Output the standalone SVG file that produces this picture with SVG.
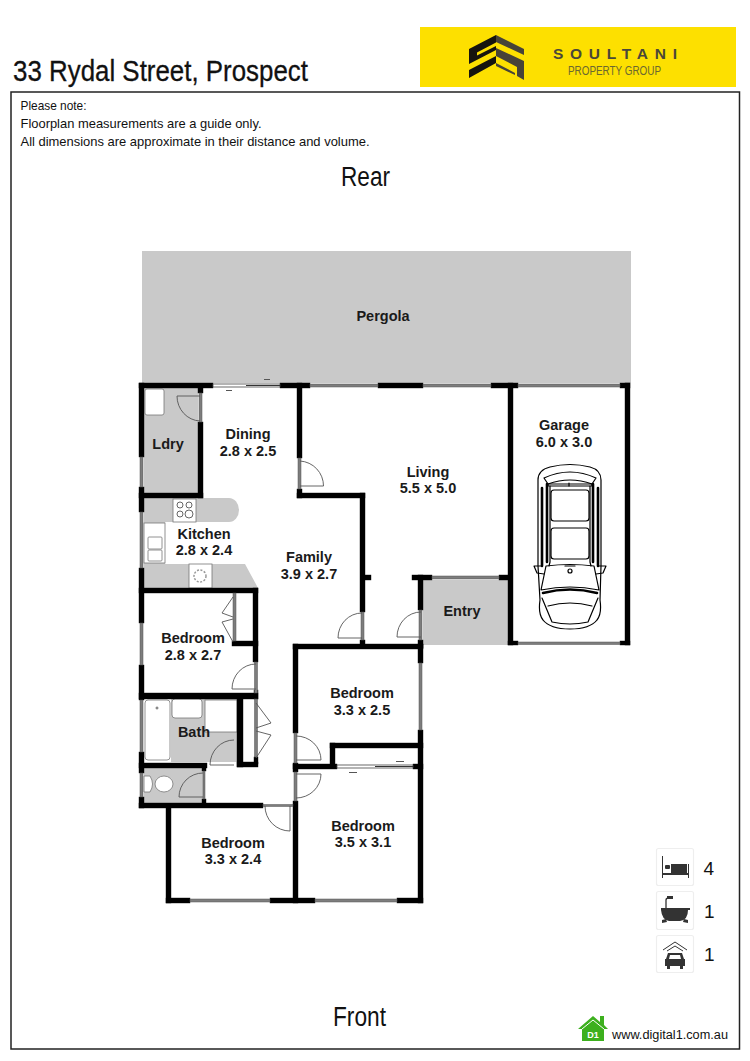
<svg xmlns="http://www.w3.org/2000/svg" width="750" height="1061" viewBox="0 0 750 1061">
<style>
text{font-family:"Liberation Sans",Arial,sans-serif;fill:#111}
.l{font-weight:700;font-size:14.5px;text-anchor:middle;fill:#1a1a1a}
.n{font-size:13px}
.w{fill:#000;stroke:#000;stroke-width:.4}
.g{fill:#c9c9c9}
.win{fill:#7d7d7d;stroke:#555;stroke-width:.5}
.sl{fill:#fff;stroke:#444;stroke-width:.8}
.d{fill:none;stroke:#555;stroke-width:.9}
.fx{fill:#fff;stroke:#777;stroke-width:.8}
.c{fill:none;stroke:#000;stroke-width:1.2;stroke-linejoin:round;stroke-linecap:round}
.cb{fill:none;stroke:#000;stroke-width:2.600;stroke-linecap:round}
.ib{fill:#fff;stroke:#eee;stroke-width:1.2}
.ic{fill:#333}
</style>
<rect width="750" height="1061" fill="#fff"/>
<g id="header">
<text x="13" y="80.500" font-size="29" textLength="295" lengthAdjust="spacingAndGlyphs" stroke="#111" stroke-width=".3">33 Rydal Street, Prospect</text>
</g>
<g id="logo">
<rect x="420" y="27" width="316" height="60" fill="#fde000"/>
<path d="M496 35 L469 49 V64 L496 50 V46 L477 55.500 V52.500 L496 42.500 Z M496 56 L469 70 V78 L496 63 Z" fill="#16140e"/>
<path d="M496 35 L524 49 V55 L496 42 Z M496 48 L524 61 V80 L517 76 V67 L496 56 Z M496 63 L515 73 V75 L496 66 Z" fill="#474338"/>
<text x="553" y="59" font-size="15.500" font-weight="700" textLength="124" style="fill:#4a473a">SOULTANI</text>
<text x="568" y="75" font-size="12" textLength="93" lengthAdjust="spacingAndGlyphs" style="fill:#6b6730">PROPERTY GROUP</text>
</g>
<rect id="frame" x="11" y="92" width="728.500" height="957" fill="none" stroke="#222" stroke-width="1.500"/>
<g id="notes">
<text class="n" x="20.500" y="110" textLength="66" lengthAdjust="spacingAndGlyphs">Please note:</text>
<text class="n" x="20.500" y="128" textLength="241" lengthAdjust="spacingAndGlyphs">Floorplan measurements are a guide only.</text>
<text class="n" x="20.500" y="146" textLength="349" lengthAdjust="spacingAndGlyphs">All dimensions are approximate in their distance and volume.</text>
<text x="341" y="186" font-size="27" textLength="49" lengthAdjust="spacingAndGlyphs">Rear</text>
<text x="333" y="1026" font-size="27" textLength="53" lengthAdjust="spacingAndGlyphs">Front</text>
</g>
<g id="floors">
<rect class="g" x="142" y="251" width="489" height="132"/>
<rect class="g" x="144" y="388" width="54" height="105"/>
<path class="g" d="M144 498 H229 A10 12 0 0 1 229 522 H144 Z"/>
<path class="g" d="M144 522 H165 V564 H245 L258 588 H144 Z"/>
<rect class="g" x="171" y="699" width="66" height="63"/>
<rect class="g" x="144" y="768" width="59" height="35"/>
<rect class="g" x="423" y="580" width="85" height="65"/>
</g>
<g id="fixtures">
<rect class="fx" x="145" y="389" width="19" height="26" rx="2"/>
<rect class="fx" x="173" y="499" width="23" height="23"/>
<circle class="d" cx="180" cy="505" r="3"/><circle class="d" cx="189" cy="505" r="3"/><circle class="d" cx="180" cy="514" r="3"/><circle class="d" cx="189" cy="514" r="4"/>
<rect class="fx" x="144" y="523" width="21" height="40"/>
<rect class="fx" x="148" y="537" width="14" height="12" rx="1"/><rect class="fx" x="148" y="550" width="14" height="11" rx="1"/>
<rect class="fx" x="189" y="564" width="23" height="24"/>
<circle cx="200" cy="576" r="6" fill="none" stroke="#999" stroke-width="1.500" stroke-dasharray="2 1.500"/>
<rect class="fx" x="145" y="700" width="25" height="60" rx="3"/>
<circle class="d" cx="157" cy="708" r="1"/>
<rect class="fx" x="172" y="699" width="30" height="19" rx="3"/>
<rect class="fx" x="205" y="700" width="32" height="32"/>
<ellipse class="fx" cx="164" cy="784" rx="9" ry="8"/>
<path class="fx" d="M144 776 H150 Q155 784 150 792 H144 Z"/>
</g>
<g id="walls" class="w">
<rect x="139" y="383" width="74" height="5"/><rect x="280" y="383" width="30" height="5"/><rect x="378" y="383" width="45" height="5"/><rect x="491" y="383" width="27" height="5"/><rect x="620" y="383" width="10" height="5"/>
<rect x="139" y="383" width="5" height="74"/><rect x="139" y="487" width="5" height="25"/><rect x="139" y="568" width="5" height="55"/><rect x="139" y="665" width="5" height="35"/><rect x="139" y="752" width="5" height="21"/><rect x="139" y="797" width="5" height="11"/>
<rect x="198" y="388" width="5" height="5"/><rect x="198" y="422" width="5" height="76"/><rect x="139" y="493" width="64" height="5"/>
<rect x="297" y="383" width="5" height="75"/><rect x="297" y="489" width="5" height="9"/><rect x="297" y="493" width="68" height="5"/><rect x="360" y="493" width="5" height="119"/><rect x="365" y="575" width="6" height="5"/><rect x="360" y="640" width="5" height="6"/>
<rect x="139" y="588" width="119" height="5"/><rect x="253" y="588" width="5" height="74"/><rect x="232" y="641" width="26" height="5"/>
<rect x="139" y="693" width="119" height="6"/><rect x="254" y="690" width="4" height="9"/><rect x="237" y="699" width="6" height="68"/><rect x="237" y="762" width="21" height="5"/><rect x="254" y="757" width="4" height="7"/>
<rect x="139" y="763" width="68" height="5"/><rect x="202" y="768" width="4" height="3"/><rect x="202" y="799" width="4" height="5"/>
<rect x="139" y="803" width="124" height="5"/><rect x="166" y="808" width="5" height="95"/>
<rect x="166" y="898" width="24" height="5"/><rect x="270" y="898" width="45" height="5"/><rect x="397" y="898" width="26" height="5"/>
<rect x="293" y="644" width="130" height="5"/><rect x="293" y="644" width="5" height="89"/><rect x="293" y="763" width="5" height="9"/><rect x="293" y="764" width="44" height="5"/><rect x="293" y="801" width="5" height="102"/>
<rect x="330" y="743" width="5" height="24"/><rect x="330" y="743" width="93" height="5"/>
<rect x="418" y="644" width="5" height="19"/><rect x="418" y="730" width="5" height="173"/><rect x="413" y="764" width="10" height="5"/>
<rect x="412" y="575" width="20" height="5"/><rect x="499" y="575" width="9" height="5"/><rect x="418" y="575" width="5" height="35"/><rect x="418" y="640" width="5" height="8"/>
<rect x="508" y="383" width="5" height="262"/><rect x="625" y="383" width="5" height="262"/><rect x="508" y="641" width="10" height="4"/><rect x="620" y="641" width="10" height="4"/>
</g>
<g id="windows">
<rect class="win" x="140" y="457" width="3" height="30"/><rect class="win" x="140" y="512" width="3" height="56"/><rect class="win" x="140" y="623" width="3" height="42"/><rect class="win" x="140" y="700" width="3" height="52"/><rect class="win" x="140" y="773" width="3" height="24"/>
<rect class="win" x="199" y="393" width="3" height="29"/><rect class="win" x="298" y="458" width="3" height="31"/><rect class="win" x="361" y="612" width="3" height="28"/><rect class="win" x="419" y="610" width="3" height="30"/>
<rect class="win" x="233" y="593" width="3" height="48"/><rect class="win" x="254.500" y="662" width="3" height="31"/><rect class="win" x="254.500" y="699" width="3" height="58"/>
<rect class="win" x="203" y="771" width="2" height="28"/><rect class="win" x="263" y="804.500" width="30" height="2"/>
<rect class="win" x="294" y="733" width="3" height="30"/><rect class="win" x="294" y="772" width="3" height="29"/><rect class="win" x="419" y="663" width="3" height="67"/>
<rect class="win" x="310" y="384" width="68" height="3"/><rect class="win" x="423" y="384" width="68" height="3"/><rect class="win" x="518" y="384" width="102" height="3"/><rect class="win" x="518" y="642" width="102" height="2.500"/><rect class="win" x="432" y="576" width="67" height="3"/>
<rect class="win" x="190" y="899" width="80" height="3"/><rect class="win" x="315" y="899" width="82" height="3"/>
<rect class="sl" x="213" y="384" width="67" height="3"/><rect class="sl" x="337" y="765" width="76" height="3"/>
<path d="M246 385.500H280M375 766.500H413" stroke="#333" stroke-width="1.200"/>
<path d="M264 379.500H270M226 390.500H232M396 761.500H404M349 772.500H357" stroke="#555" stroke-width="1"/>
</g>
<g id="doors">
<path class="d" d="M200 396 H177 A24 25 0 0 0 200 421"/>
<path class="d" d="M300 461 A25 25 0 0 1 323.500 486 H300"/>
<path class="d" d="M362 613 A24 25 0 0 0 338 638 H362"/>
<path class="d" d="M421 612 A24 25 0 0 0 397 637 H421"/>
<path class="d" d="M256 664 A24 25 0 0 0 232 689 H256"/>
<path class="d" d="M233 597 L222 613 L233 617 M233 619 L222 622 L233 642"/>
<path class="d" d="M234 740 A24 25 0 0 0 210 765 H234"/>
<path class="d" d="M203 773 A24 24 0 0 0 179 797 H203"/>
<path class="d" d="M256 703 L271 723 L256 728 M256 731 L271 735 L256 758"/>
<path class="d" d="M296 736 A25 24 0 0 1 321 760 H296"/>
<path class="d" d="M296 774 H321 A25 24 0 0 1 296 798"/>
<path class="d" d="M265 806 A25 25 0 0 0 290 831 V806"/>
</g>
<g id="car">
<path class="c" d="M538 480 Q538 470 550 467 Q570 462 590 467 Q601 470 601 480 L601 566 L600 600 Q602 614 597 620 Q590 629 570 629 Q550 629 543 620 Q538 614 540 600 L538 566 Z"/>
<path class="c" d="M544 478 Q570 466 596 478 L592 484 Q570 476 548 484 Z"/>
<path class="c" d="M548 484 H592 V486 H548 Z"/>
<rect class="c" x="551" y="490" width="38" height="31" rx="3"/>
<rect class="c" x="551" y="528" width="38" height="31" rx="3"/>
<path class="c" d="M550 486 V562 L549 566 M590 486 V562 L591 566"/>
<path class="cb" d="M542 488 V566 M547 484 V562 M598 488 V566 M593 484 V562"/>
<path class="c" d="M541 566 L534 566 L537 573 L544 574 M599 566 L606 566 L603 573 L596 574"/>
<path class="c" d="M546 566 Q570 563 594 566 L599 590 Q570 584 541 590 Z"/>
<path class="cb" d="M543 593 Q570 586 597 593"/>
<path class="c" d="M542 598 L552 622 M598 598 L588 622 M548 606 Q570 600 592 606 M552 622 Q570 626 588 622"/>
<circle class="c" cx="570" cy="571" r="2"/>
<path class="c" d="M569 483 V486 M565 566 H575"/>
</g>
<g id="labels">
<text class="l" x="383" y="321">Pergola</text>
<text class="l" x="248" y="439">Dining</text><text class="l" x="248" y="456">2.8 x 2.5</text>
<text class="l" x="168" y="449">Ldry</text>
<text class="l" x="204" y="539">Kitchen</text><text class="l" x="204" y="555">2.8 x 2.4</text>
<text class="l" x="309" y="562">Family</text><text class="l" x="309" y="579">3.9 x 2.7</text>
<text class="l" x="193" y="643">Bedroom</text><text class="l" x="193" y="660">2.8 x 2.7</text>
<text class="l" x="194" y="737">Bath</text>
<text class="l" x="362" y="698">Bedroom</text><text class="l" x="362" y="715">3.3 x 2.5</text>
<text class="l" x="363" y="831">Bedroom</text><text class="l" x="363" y="847">3.5 x 3.1</text>
<text class="l" x="233" y="848">Bedroom</text><text class="l" x="233" y="864">3.3 x 2.4</text>
<text class="l" x="428" y="477">Living</text><text class="l" x="428" y="493">5.5 x 5.0</text>
<text class="l" x="564" y="430">Garage</text><text class="l" x="564" y="447">6.0 x 3.0</text>
<text class="l" x="462" y="616">Entry</text>
</g>
<g id="icon-bed">
<rect class="ib" x="656.500" y="848.500" width="37" height="37" rx="2"/>
<path class="ic" d="M662 856h1v22h-1zM688 864h1v14h-1zM663 873h25v2h-25z"/>
<rect class="ic" x="671" y="864" width="16" height="9"/><rect class="ic" x="665" y="865" width="5" height="4" rx="1"/>
<text x="703.500" y="875" font-size="19">4</text>
</g>
<g id="icon-bath">
<rect class="ib" x="656.500" y="891.500" width="37" height="38" rx="2"/>
<path class="ic" d="M661 908h29v2h-2q0 10-8 11h-11q-7-1-8-11z"/>
<path d="M666 908v-8q0-2 3-2" fill="none" stroke="#333" stroke-width="1.300"/>
<path class="ic" d="M667 896h6v3h-6zM662 920l4-1 1 3-5 1zM688 920l-4-1-1 3 5 1z"/>
<text x="704" y="918" font-size="19">1</text>
</g>
<g id="icon-garage">
<rect class="ib" x="656.500" y="935.500" width="37" height="37" rx="2"/>
<path d="M663 950l12-8 12 8M667 951l8-5 8 5" fill="none" stroke="#333" stroke-width="1"/>
<path class="ic" d="M668 953h14l2 6h1v7h-20v-7h1zM670 955l-1 4h12l-1-4zM667 966h3v3h-3zM680 966h3v3h-3z" fill-rule="evenodd"/>
<text x="704" y="961" font-size="19">1</text>
</g>
<g id="digital1">
<path d="M578 1029 L593 1016 L600 1022 V1016 H604 V1025 L608 1029 H604 V1041 H582 V1029 Z" fill="#3db01e"/>
<path d="M582 1029 L593 1020 L604 1029" fill="none" stroke="#fff" stroke-width="1"/>
<text x="593" y="1038" font-size="9" font-weight="700" text-anchor="middle" style="fill:#fff">D1</text>
<text x="612" y="1039" font-size="12.500" textLength="116" lengthAdjust="spacingAndGlyphs">www.digital1.com.au</text>
</g>
</svg>
